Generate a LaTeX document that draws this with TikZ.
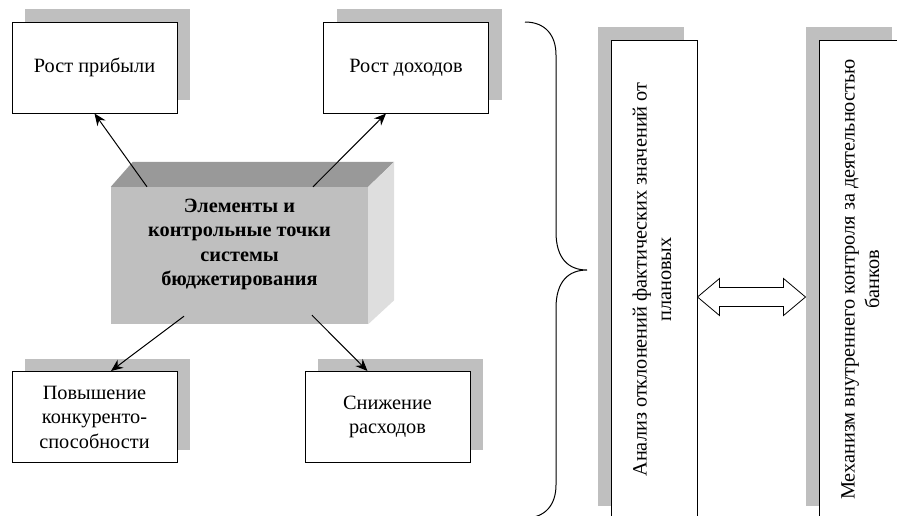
\documentclass[tikz,border=0pt]{standalone}
\usepackage{fontspec}
\setmainfont{Liberation Serif}
\usepackage{graphicx}
\usetikzlibrary{arrows.meta,calc,shadows}

\begin{document}
\begin{tikzpicture}[x=1pt,y=-1pt,
    font=\fontsize{20.3}{24.5}\selectfont,
    goal/.style={draw, line width=1pt, fill=white, align=center, inner sep=2pt,
        minimum width=165pt, minimum height=91pt,
        drop shadow={shadow xshift=13pt, shadow yshift=13pt, fill=black!25, opacity=1}},
    tall/.style={draw, line width=1pt, fill=white, inner sep=0pt,
        minimum width=86pt, minimum height=479pt,
        drop shadow={shadow xshift=-13pt, shadow yshift=13pt, fill=black!25, opacity=1}},
    link/.style={line width=1pt, -{Stealth[length=12pt,width=10pt]}}]
    \useasboundingbox (0,0) rectangle (897,515);
    \clip (0,0) rectangle (897,515);

    %% Goals
    \node[goal] (prib) at (94.5,67.5) {Рост прибыли};
    \node[goal] (dohod) at (406,67.5) {Рост доходов};
    \node[goal] (konk) at (94.5,417) {Повышение\\конкуренто-\\способности};
    \node[goal] (snizh) at (387.5,417) {Снижение\\расходов};

    %% Budgeting box
    \node[fill=black!25, inner sep=0pt, minimum width=257pt, minimum height=137pt] (core) at (239.5,255.5) {};
    \fill[black!40]
    (core.north west) -- ++(22,-25) -- ($(core.north east)+(26,-25)$) -- (core.north east) -- cycle
    ;
    \fill[black!13]
    (core.north east) -- ++(26,-25) -- ($(core.south east)+(26,-24)$) -- (core.south east) -- cycle
    ;
    \node[font=\fontsize{20.3}{24.5}\selectfont\bfseries, align=center] (coretext) at ([yshift=11pt]core.center)
    {Элементы и\\контрольные точки\\системы\\бюджетирования};

    %% Links
    \draw[link] ([xshift=-92.5pt]core.north) -- (prib.south);
    \draw[link] ([xshift=73.5pt]core.north) -- ([xshift=-20pt]dohod.south);
    \draw[link] ([xshift=-55.5pt,yshift=8pt]core.south) -- ([xshift=16.5pt]konk.north);
    \draw[link] ([xshift=72.5pt,yshift=9pt]core.south) -- ([xshift=-20pt]snizh.north);

    %% Brace
    \draw[line width=1pt]
    (525,22) .. controls (545,22) and (556,35) .. (556,55) -- (556,232)
    .. controls (556,258) and (568,270) .. (587,270)
    .. controls (568,270) and (556,282) .. (556,308) -- (556,485)
    .. controls (556,505) and (545,518) .. (525,518)
    ;

    %% Control
    \node[tall] (anal) at (654,279.5)
    {\rotatebox{90}{\begin{tabular}{@{}c@{}}Анализ отклонений фактических значений от\\плановых\end{tabular}}};
    \node[tall] (mech) at (862,279.5)
    {\rotatebox{90}{\begin{tabular}{@{}c@{}}Механизм внутреннего контроля за деятельностью\\банков\end{tabular}}};

    \coordinate (al) at ([yshift=-17.5pt]anal.east);
    \coordinate (ar) at ([xshift=-13pt,yshift=-17.5pt]mech.west);
    \draw[line width=0.8pt, fill=white]
    (al) -- ++(22,-18.5) -- ++(0,9) -- ($(ar)+(-22,-9.5)$) -- ++(0,-9) -- (ar)
    -- ++(-22,18.5) -- ++(0,-9) -- ($(al)+(22,9.5)$) -- ++(0,9) -- cycle
    ;
\end{tikzpicture}
\end{document}
